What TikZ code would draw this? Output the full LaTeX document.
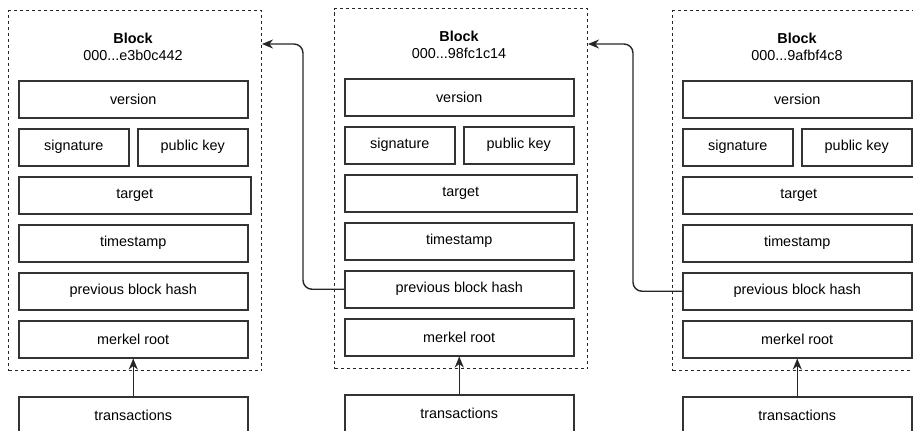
\documentclass[tikz,border=0pt]{standalone}
\usepackage{fontspec}
\setmainfont{Liberation Sans}
\usetikzlibrary{arrows.meta}

% one block of the chain: #1 name prefix, #2/#3 offset, #4 short hash
\newcommand\chainblock[4]{%
  \begin{scope}[shift={(#2,#3)}]
    \node[frame, minimum width=253pt, minimum height=360pt] (#1-frame) at (8,10) {};
    \node[font=\lbl\bfseries] (#1-title) at (133,38) {Block};
    \node (#1-hash) at (133,55) {000...#4};
    \node[field, minimum width=229pt] (#1-version) at (18,80) {version};
    \node[field, minimum width=110pt] (#1-sig) at (18,128) {signature};
    \node[field, minimum width=110pt] (#1-key) at (137,128) {public key};
    \node[field, minimum width=232pt] (#1-target) at (18,176) {target};
    \node[field, minimum width=229pt] (#1-time) at (18,224) {timestamp};
    \node[field, minimum width=229pt] (#1-prev) at (18,272) {previous block hash};
    \node[field, minimum width=229pt] (#1-merkle) at (18,320) {merkel root};
    \node[field, minimum width=229pt] (#1-tx) at (18,396) {transactions};
    \draw[link] (#1-tx.north) -- (#1-merkle.south);
  \end{scope}}

\newcommand\lbl{\fontsize{14.4pt}{17pt}\selectfont}

\begin{document}
\begin{tikzpicture}[
    x=1pt, y=-1pt,
    every node/.style={font=\lbl, text=black, inner sep=0pt},
    frame/.style={draw=black!85, line width=1pt, dash pattern=on 3pt off 3pt,
      anchor=north west},
    field/.style={draw=black!80, line width=1.5pt, minimum height=37pt,
      anchor=north west, align=center},
    link/.style={draw=black!85, line width=1.4pt, rounded corners=9pt,
      -{Stealth[length=11pt, width=9pt, inset=3.5pt]}},
  ]
  \clip (0,0) rectangle (913,431);

  \chainblock{a}{0}{0}{e3b0c442}
  \chainblock{b}{326}{-2}{98fc1c14}
  \chainblock{c}{664}{0}{9afbf4c8}

  % each block points back to its predecessor
  \coordinate (b-turn) at (303,44);
  \coordinate (c-turn) at (633,44);
  \draw[link] (b-prev.west) -| (b-turn) -- (a-frame.east |- b-turn);
  \draw[link] (c-prev.west) -| (c-turn) -- (b-frame.east |- c-turn);
\end{tikzpicture}
\end{document}
